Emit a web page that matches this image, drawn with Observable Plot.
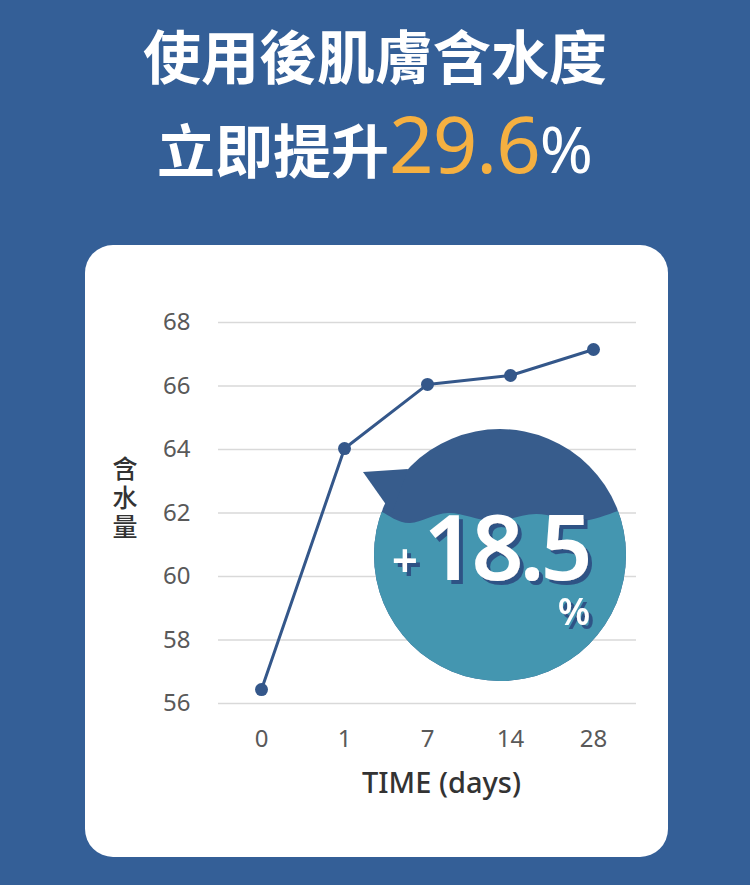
<!DOCTYPE html>
<html>
<head>
<meta charset="utf-8">
<script src="https://cdn.jsdelivr.net/npm/d3@7"></script>
<script src="https://cdn.jsdelivr.net/npm/@observablehq/plot@0.6"></script>
<style>
  html, body { margin: 0; padding: 0; }
  body { width: 750px; height: 885px; background: #345f97; position: relative; overflow: hidden;
         font-family: "Noto Sans CJK TC", "Noto Sans", sans-serif; }
  .t1 { position: absolute; left: 0; width: 750px; top: 24px; text-align: center; color: #fff;
        font-size: 58px; font-weight: 700; line-height: 60px; white-space: nowrap; }
  .t2 { position: absolute; left: 0; width: 750px; top: 103px; text-align: center; color: #fff;
        font-size: 58px; font-weight: 700; line-height: 80px; white-space: nowrap; }
  .t2 .num { color: #f5b041; font-family: "Noto Sans", sans-serif; font-weight: 400; font-size: 78px; letter-spacing: -1px; }
  .t2 .pct { font-family: "Noto Sans", sans-serif; font-weight: 400; font-size: 64px; }
  .card { position: absolute; left: 85px; top: 245px; width: 583px; height: 612px; background: #fff; border-radius: 28px; overflow: hidden; }
</style>
</head>
<body>
<div class="t1">使用後肌膚含水度</div>
<div class="t2">立即提升<span class="num">29.6</span><span class="pct">%</span></div>
<div class="card" id="card"></div>
<script>
// ---- data ----
const days = ["0", "1", "7", "14", "28"];
const moisture = [56.44, 64.03, 66.05, 66.33, 67.15];
const yTicks = [56, 58, 60, 62, 64, 66, 68];
const xLabel = "TIME (days)";
const yLabel = "含水量";
const bubbleDay = "14";
const bubbleValue = 60.66;
const bubbleText = "18.5";

const data = days.map((d, i) => ({day: d, value: moisture[i]}));

const lineColor = "#34578a";

function bubble(index, scales, values, dimensions) {
  const cx = scales.x(bubbleDay) - 10;
  const cy = scales.y(bubbleValue);
  const R = 126;
  const g = d3.create("svg:g").attr("transform", `translate(${cx},${cy})`);
  const defs = g.append("defs");
  defs.append("clipPath").attr("id", "bclip").append("circle").attr("r", R);
  const f = defs.append("filter").attr("id", "tshadow")
    .attr("x", "-20%").attr("y", "-20%").attr("width", "140%").attr("height", "140%");
  f.append("feOffset").attr("in", "SourceAlpha").attr("dx", 3.5).attr("dy", 3.5).attr("result", "off");
  f.append("feFlood").attr("flood-color", "#2f5285").attr("result", "col");
  f.append("feComposite").attr("in", "col").attr("in2", "off").attr("operator", "in").attr("result", "sh");
  const m = f.append("feMerge");
  m.append("feMergeNode").attr("in", "sh");
  m.append("feMergeNode").attr("in", "SourceGraphic");
  // dark bubble with tail
  g.append("circle").attr("r", R).attr("fill", "#375c8c");
  g.append("path").attr("d", "M-137,-83 L-92,-86 L-108,-42 Z").attr("fill", "#375c8c");
  // teal water
  const wave = [[-130,-42],[-118,-43],[-90,-32],[-52,-42],[-8,-34],[36,-41],[78,-34],[118,-44],[135,-46]];
  const wp = d3.line().curve(d3.curveNatural)(wave);
  g.append("path").attr("d", wp + " L140,140 L-140,140 Z").attr("fill", "#4496b0").attr("clip-path", "url(#bclip)");
  // texts with shadow
  const tg = g.append("g").attr("filter", "url(#tshadow)").attr("fill", "#fff")
    .attr("font-family", "Noto Sans").attr("text-anchor", "middle");
  tg.append("text").attr("x", -95).attr("y", 22).attr("font-size", 46).attr("font-weight", 600).text("+");
  tg.append("text").attr("x", 6).attr("y", 25).attr("font-size", 91).attr("font-weight", 600)
    .attr("letter-spacing", -4).text(bubbleText);
  tg.append("text").attr("x", 74).attr("y", 70).attr("font-size", 37).attr("font-weight", 600).text("%");
  return g.node();
}

function yAxisLabel(index, scales, values, dimensions) {
  const {marginLeft, marginTop, marginBottom, height} = dimensions;
  const y = (marginTop + height - marginBottom) / 2 - 13;
  return d3.create("svg:text")
    .attr("x", marginLeft - 93).attr("y", y)
    .attr("text-anchor", "middle")
    .style("writing-mode", "vertical-rl")
    .attr("letter-spacing", 4)
    .attr("font-family", "Noto Sans CJK TC")
    .attr("font-size", 25).attr("font-weight", 500).attr("fill", "#333")
    .text(yLabel).node();
}

const chart = Plot.plot({
  width: 583,
  height: 612,
  marginLeft: 133,
  marginRight: 32,
  marginTop: 77,
  marginBottom: 154,
  style: {background: "transparent", fontFamily: "Noto Sans", overflow: "visible"},
  x: {type: "point", domain: days, padding: 0.5},
  y: {domain: [56, 68]},
  marks: [
    Plot.gridY(yTicks, {stroke: "#d9d9d9", strokeOpacity: 1, strokeWidth: 1.5}),
    Plot.axisY(yTicks, {label: null, tickSize: 0, tickPadding: 28, fontSize: 24, fill: "#595959"}),
    Plot.axisX({label: null, tickSize: 0, tickPadding: 26, fontSize: 24, fill: "#595959"}),
    bubble,
    Plot.line(data, {x: "day", y: "value", stroke: lineColor, strokeWidth: 3}),
    Plot.dot(data, {x: "day", y: "value", r: 6.5, fill: lineColor}),
    Plot.text([xLabel], {text: d => d, frameAnchor: "bottom", dx: 14, dy: 89, fontSize: 29, fontWeight: 500, fill: "#333", lineAnchor: "bottom"}),
    yAxisLabel
  ]
});
document.getElementById("card").appendChild(chart);
</script>
</body>
</html>
